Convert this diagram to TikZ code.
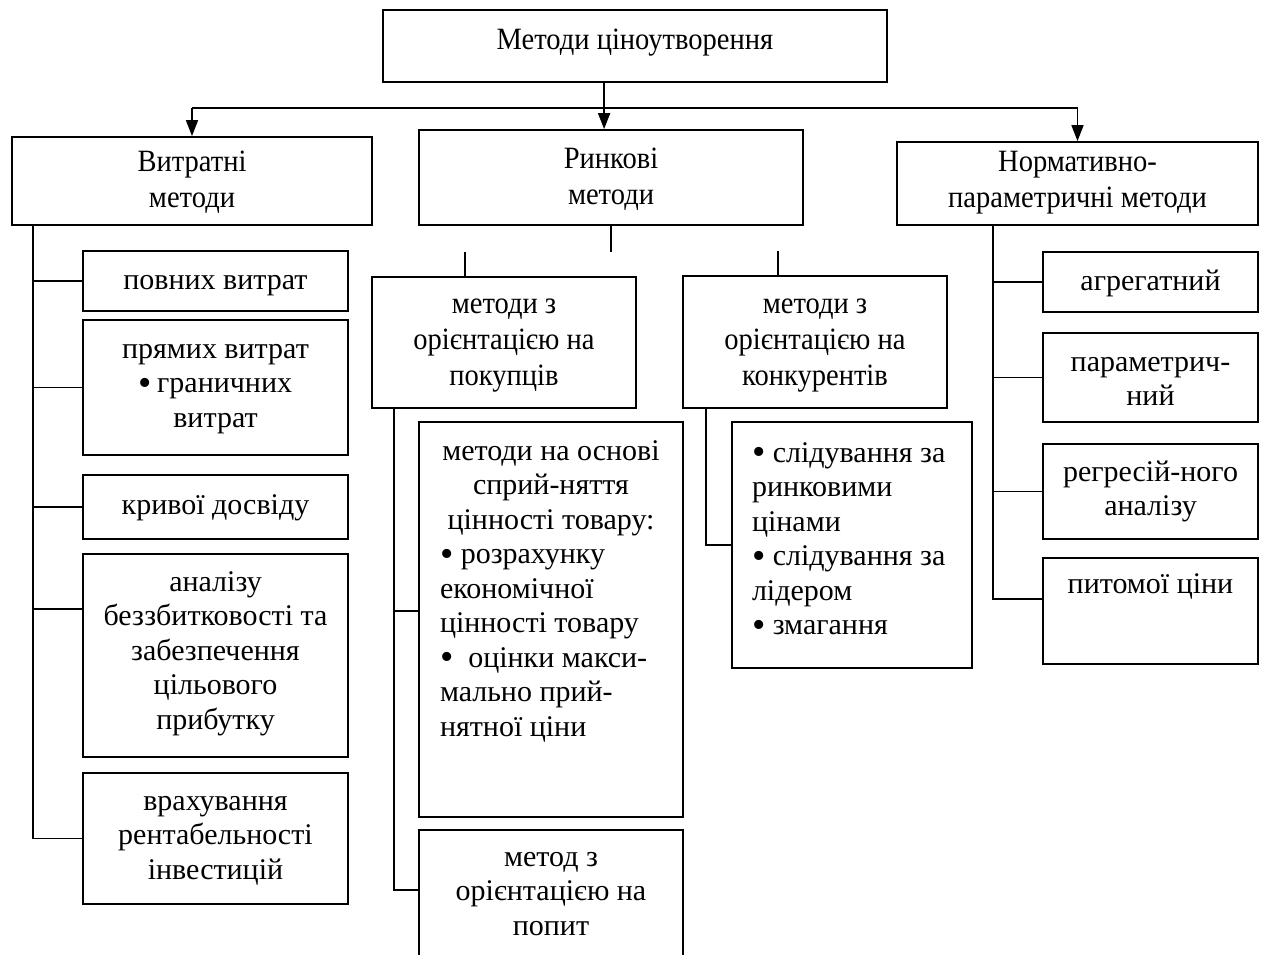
\documentclass[tikz,border=0pt]{standalone}
\usepackage{fontspec}
\setmainfont{Liberation Serif}
\newfontfamily\condfont[FakeStretch=0.92]{Liberation Serif}
\usetikzlibrary{arrows.meta}
\newcommand\bul{\raisebox{-2.7pt}{\fontsize{38}{38}\selectfont •}}
% name, style, x1, y1, x2, y2, first-baseline offset, content
\newcommand\tbx[8]{\node[#2, minimum width={#5-#3}, minimum height={#6-#4}] (#1) at ({(#3+#5)/2},{(#4+#6)/2}) {\parbox[c][\dimexpr#6pt-#4pt\relax][t]{\dimexpr#5pt-#3pt\relax}{\rule{0pt}{#7pt}#8\par}};}
\begin{document}
\begin{tikzpicture}[x=1pt,y=-1pt,
  box/.style={draw, line width=1.8pt, inner sep=0pt, font=\fontsize{30}{34.5}\selectfont},
  hbox/.style={box, font=\condfont\fontsize{31}{36}\selectfont},
  conn/.style={line width=1.7pt},
  arr/.style={conn, -{Triangle[length=16pt,width=12pt]}}]
\useasboundingbox (0,0) rectangle (1267,955);
\clip (0,0) rectangle (1267,955);
% top level
\tbx{top}{hbox}{383}{10}{887}{82}{40}{\centering Методи ціноутворення}
\tbx{vytr}{hbox}{12}{137}{372}{225}{34}{\centering Витратні\\методи}
\tbx{rynk}{hbox}{419}{130}{803}{225}{38}{\centering Ринкові\\методи}
\tbx{norm}{hbox}{897}{142}{1258}{225}{29}{\centering Нормативно-\\параметричні методи}
% left column
\tbx{povn}{box}{83}{251}{348}{311}{38}{\centering повних витрат}
\tbx{pryam}{box}{83}{320}{348}{455}{38}{\centering прямих витрат\\\bul\,граничних\\витрат}
\tbx{kryv}{box}{83}{475}{348}{539}{39}{\centering кривої досвіду}
\tbx{analiz}{box}{83}{554}{348}{757}{37}{\centering аналізу\\беззбитковості та\\забезпечення\\цільового\\прибутку}
\tbx{vrakh}{box}{83}{773}{348}{904}{37}{\centering врахування\\рентабельності\\інвестицій}
% middle
\tbx{pok}{hbox}{372}{277}{636}{408}{36}{\centering методи з\\орієнтацією на\\покупців}
\tbx{konk}{hbox}{683}{276}{947}{408}{37}{\centering методи з\\орієнтацією на\\конкурентів}
\tbx{osn}{box}{419}{422}{683}{817}{38}{\centering методи на основі\\сприй-няття\\цінності товару:\par\raggedright\leftskip=21pt \bul\ розрахунку\\економічної\\цінності товару\\\bul\ \ оцінки макси-\\мально прий-\\нятної ціни}
\tbx{metod}{box}{419}{830}{683}{1000}{36}{\centering метод з\\орієнтацією на\\попит}
\tbx{knin}{box}{732}{422}{972}{668}{40}{\raggedright\leftskip=20pt \bul\ слідування за\\ринковими\\цінами\\\bul\ слідування за\\лідером\\\bul\ змагання}
% right column
\tbx{agr}{box}{1043}{252}{1258}{312}{38}{\centering агрегатний}
\tbx{param}{box}{1043}{333}{1258}{422}{38}{\centering параметрич-\\ний}
\tbx{regr}{box}{1043}{444}{1258}{539}{37}{\centering регресій-ного\\аналізу}
\tbx{pyt}{box}{1043}{558}{1258}{664}{35}{\centering питомої ціни}
% arrows from top
\path (top.south west) ++(222,0) coordinate (tc) ++(0,25) coordinate (hm);
\draw[arr] (tc) -- (tc |- rynk.north);
\draw[conn] (hm -| vytr.north) -- (hm -| norm.north);
\draw[arr] (hm -| vytr.north) -- (vytr.north);
\draw[arr] (hm -| norm.north) -- (norm.north);
% left tree
\path (vytr.south west) ++(22,0) coordinate (lt);
\draw[conn] (lt) |- (vrakh.west);
\foreach \n in {povn,pryam,kryv} \draw[conn] (\n.west) -- (\n.west -| lt);
\path (analiz.north west) ++(0,56) coordinate (ab);
\draw[conn] (ab) -- (ab -| lt);
% middle stubs
\draw[conn] (rynk.south) -- ++(0,26);
\draw[conn] (pok.north west) ++(94,0) -- ++(0,-24);
\draw[conn] (konk.north west) ++(96,0) -- ++(0,-24);
% buyers tree
\path (pok.south west) ++(23,0) coordinate (pt);
\path (metod.north west) ++(0,61) coordinate (mb);
\path (osn.north west) ++(0,190) coordinate (ob);
\draw[conn] (pt) |- (mb);
\draw[conn] (ob) -- (ob -| pt);
% competitors tree
\path (konk.south west) ++(24,0) coordinate (kt);
\draw[conn] (kt) |- (knin.west);
% right tree
\path (norm.south west) ++(97,0) coordinate (rt);
\path (pyt.north west) ++(0,42) coordinate (pb);
\draw[conn] (rt) |- (pb);
\foreach \n in {agr,param,regr} \draw[conn] (\n.west) -- (\n.west -| rt);
\end{tikzpicture}
\end{document}
